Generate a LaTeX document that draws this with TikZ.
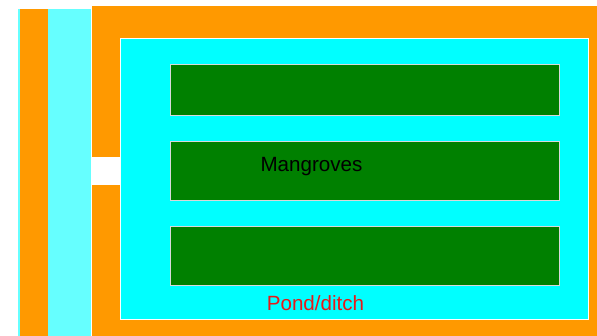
\documentclass[tikz,border=0pt]{standalone}
\usepackage{fontspec}
\setmainfont{Liberation Sans}
\definecolor{dykeorange}{HTML}{FF9900}
\definecolor{canallight}{HTML}{66FFFF}
\definecolor{pondcyan}{HTML}{00FFFF}
\definecolor{mangrovegreen}{HTML}{008000}
\definecolor{labelred}{HTML}{E81818}

\begin{document}
\begin{tikzpicture}[x=1pt, y=-1pt]
			%%%%% START %%%%%
			\useasboundingbox (0, 0) rectangle (597, 335);
			
			% left canal and dyke
			\draw[fill=canallight, draw=canallight] (18, 9) rectangle (91, 335);
			\draw[fill=dykeorange, draw=dykeorange] (20, 9) rectangle (47, 335);
			
			% outer dyke
			\draw[fill=dykeorange, draw=white, line width=0.8pt] (91.5, 5) rectangle (598, 336);
			\draw[fill=white, draw=white] (92, 157) rectangle (120, 184);
			
			% pond
			\draw[fill=pondcyan, draw=white, line width=0.8pt] (120, 38) rectangle (588, 319);
			
			% mangrove beds
			\draw[fill=mangrovegreen, draw=white!85!black, line width=0.8pt] (170, 64) rectangle (559, 115);
			\draw[fill=mangrovegreen, draw=white!85!black, line width=0.8pt] (170, 141) rectangle (559, 200);
			\draw[fill=mangrovegreen, draw=white!85!black, line width=0.8pt] (170, 226) rectangle (559, 285);
			
			\node[font=\fontsize{20.6}{24}\selectfont, color=black] (mangroves) at (311.5, 167) {Mangroves};
			\node[font=\fontsize{20.6}{24}\selectfont, color=labelred] (pond) at (315.5, 303) {Pond/ditch};
			
			%%%%% END %%%%%
		\end{tikzpicture}
\end{document}
